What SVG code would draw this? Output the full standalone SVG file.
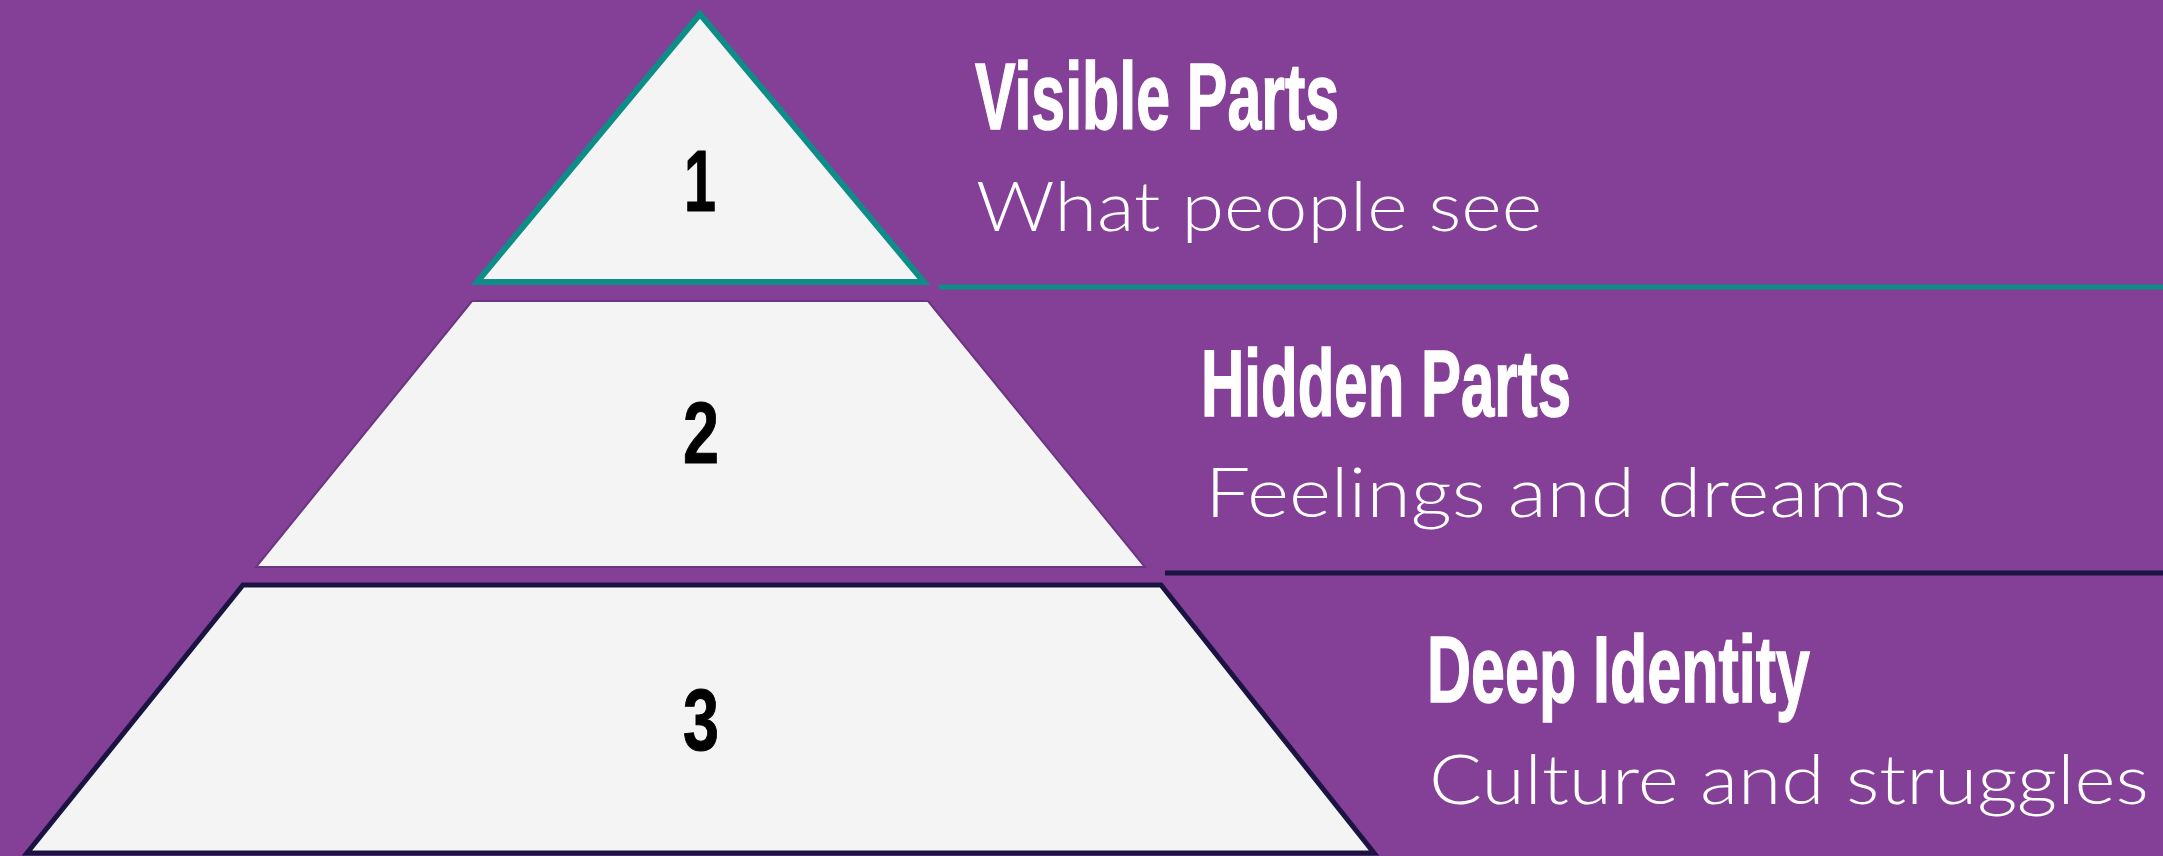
<svg xmlns="http://www.w3.org/2000/svg" width="2163" height="856" viewBox="0 0 2163 856">
<style>
.bg{fill:#843f96}
.tier{fill:#f4f4f4}
.num{font-family:"Liberation Sans",Arial,sans-serif;font-weight:bold;font-size:88px;fill:#000;stroke:#000;stroke-width:1;text-anchor:middle}
.head{font-family:"Liberation Sans",Arial,sans-serif;font-weight:bold;font-size:94px;fill:#fff;stroke:#fff;stroke-width:1.5}
.sub{font-family:Lato,"Open Sans",sans-serif;font-weight:300;font-size:69px;fill:#fff}
</style>
<rect class="bg" x="0" y="0" width="2163" height="856"/>
<g id="tier1">
<polygon class="tier" points="700,14 477,282 924,282" stroke="#0e8c88" stroke-width="6" stroke-linejoin="miter"/>
<text class="num" x="700" y="211" textLength="32" lengthAdjust="spacingAndGlyphs">1</text>
</g>
<g id="tier2">
<polygon class="tier" points="472,301 928,301 1145,567 256,567" stroke="#6b3583" stroke-width="2"/>
<text class="num" x="701" y="463" textLength="36" lengthAdjust="spacingAndGlyphs">2</text>
</g>
<g id="tier3">
<polygon class="tier" points="243,585 1161,585 1374,853 27,853" stroke="#1b1442" stroke-width="5"/>
<text class="num" x="701" y="750" textLength="36" lengthAdjust="spacingAndGlyphs">3</text>
</g>
<g id="connectors">
<line x1="939" y1="287" x2="2163" y2="287" stroke="#0e8c88" stroke-width="5"/>
<line x1="1165" y1="573" x2="2163" y2="573" stroke="#1b1442" stroke-width="5"/>
</g>
<g id="label1">
<text class="head" x="975" y="129" textLength="364" lengthAdjust="spacingAndGlyphs">Visible Parts</text>
<text class="sub" x="976" y="231" textLength="566" lengthAdjust="spacingAndGlyphs">What people see</text>
</g>
<g id="label2">
<text class="head" x="1201" y="416" textLength="370" lengthAdjust="spacingAndGlyphs">Hidden Parts</text>
<text class="sub" x="1205" y="517" textLength="702" lengthAdjust="spacingAndGlyphs">Feelings and dreams</text>
</g>
<g id="label3">
<text class="head" x="1427" y="702" textLength="383" lengthAdjust="spacingAndGlyphs">Deep Identity</text>
<text class="sub" x="1429" y="804" textLength="720" lengthAdjust="spacingAndGlyphs">Culture and struggles</text>
</g>
</svg>
